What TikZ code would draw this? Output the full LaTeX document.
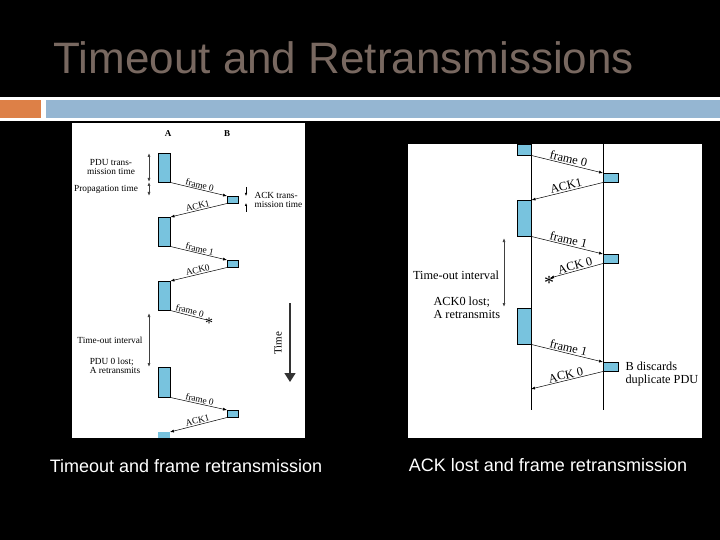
\documentclass[tikz,border=0pt]{standalone}
\usepackage{fontspec}
\setmainfont{Liberation Serif}
\newfontfamily\arial{Liberation Sans}
\usetikzlibrary{arrows.meta}
\definecolor{barblue}{RGB}{120,195,222}
\definecolor{titlec}{RGB}{120,104,96}
\definecolor{orangec}{RGB}{221,128,71}
\definecolor{bluec}{RGB}{149,182,210}
\begin{document}
\begin{tikzpicture}[x=1pt,y=-1pt,
  bar/.style={draw=black,fill=barblue,line width=0.5pt},
  msg/.style={-{Latex[length=4pt,width=3pt]},line width=0.5pt},
  dim/.style={{Latex[length=4pt,width=3pt]}-{Latex[length=4pt,width=3pt]},line width=0.7pt,draw=black!75},
  lsm/.style={font=\fontsize{9.3}{9.5}\selectfont},
  lbig/.style={font=\fontsize{12.3}{13.5}\selectfont},
  captext/.style={text=white,font=\arial\fontsize{18}{20}\selectfont}]
\fill[black] (0,0) rectangle (720,540);
\useasboundingbox (0,0) rectangle (720,540);
\node[text=titlec,font=\arial\fontsize{44}{48}\selectfont,anchor=west] (title) at (50,58) {Timeout and Retransmissions};
\fill[white] (0,97) rectangle (720,121);
\fill[orangec] (0,100) rectangle (41,118);
\fill[bluec] (46,100) rectangle (720,118);
% left figure
\fill[white] (72,123) rectangle (305,438);
\node[font=\bfseries\fontsize{9}{9}\selectfont] (A) at (168,134) {A};
\node[font=\bfseries\fontsize{9}{9}\selectfont] (B) at (227,134) {B};
\foreach \n/\t/\b in {a1/153/182,a2/217/246,a3/281/310,a4/367/397}
  \node[bar,minimum width=12pt,minimum height={(\b-\t)*1pt},inner sep=0pt,anchor=north west] (\n) at (158,\t) {};
\fill[barblue] (158,432) rectangle (170,438);
\foreach \n/\t in {b1/196,b2/260,b3/410}
  \node[bar,minimum width=11pt,minimum height=7pt,inner sep=0pt,anchor=north west] (\n) at (227,\t) {};
\coordinate (a5) at (170,432);
\coordinate (s1) at (207,320);
\draw[msg] (a1.south east) -- node[lsm,sloped,above,inner sep=1pt]{frame 0} (b1.north west);
\draw[msg] (b1.south west) -- node[lsm,sloped,above,inner sep=1pt]{ACK1} (a2.north east);
\draw[msg] (a2.south east) -- node[lsm,sloped,above,inner sep=1pt]{frame 1} (b2.north west);
\draw[msg] (b2.south west) -- node[lsm,sloped,above,inner sep=1pt]{ACK0} (a3.north east);
\draw[line width=0.5pt] (a3.south east) -- node[lsm,sloped,above,inner sep=1pt]{frame 0} (s1);
\node[font=\fontsize{16}{16}\selectfont] (st1) at (209,323) {*};
\draw[msg] (a4.south east) -- node[lsm,sloped,above,inner sep=1pt]{frame 0} (b3.north west);
\draw[msg] (b3.south west) -- node[lsm,sloped,above,inner sep=1pt]{ACK1} (a5);
\coordinate (d1) at (149,153); \coordinate (d2) at (149,182); \coordinate (d3) at (149,196);
\draw[dim] (d1) -- (d2);
\draw[dim] (d2) -- (d3);
\node[lsm,align=center] (l1) at (111,167) {PDU trans-\\mission time};
\node[lsm] (l2) at (106,189) {Propagation time};
\coordinate (e1) at (246,187); \coordinate (e2) at (246,196);
\coordinate (e3) at (246,212); \coordinate (e4) at (246,203);
\draw[-{Latex[length=3pt,width=2.5pt]},line width=0.5pt] (e1) -- (e2);
\draw[-{Latex[length=3pt,width=2.5pt]},line width=0.5pt] (e3) -- (e4);
\node[lsm,align=left,anchor=west] (l3) at (251,200) {ACK trans-\\mission time};
\coordinate (t1) at (149,313); \coordinate (t2) at (149,367);
\draw[dim] (t1) -- (t2);
\node[lsm] (l4) at (110,340) {Time-out interval};
\node[lsm,align=left] (l5) at (115,366) {PDU 0 lost;\\A retransmits};
\coordinate (tm1) at (290,303); \coordinate (tm2) at (290,382);
\draw[line width=1.5pt,draw=black!80,-{Triangle[length=9pt,width=11pt]}] (tm1) -- (tm2);
\node[font=\fontsize{11}{11}\selectfont,rotate=90] (tl) at (278,343) {Time};
% right figure
\fill[white] (408,144) rectangle (702,438);
\coordinate (ra0) at (531,144); \coordinate (ra9) at (531,410);
\coordinate (rb0) at (603,144); \coordinate (rb9) at (603,410);
\draw[line width=0.6pt] (ra0) -- (ra9);
\draw[line width=0.6pt] (rb0) -- (rb9);
\foreach \n/\t/\b in {r1/144/155,r2/200/236,r3/308/344}
  \node[bar,minimum width=14pt,minimum height={(\b-\t)*1pt},inner sep=0pt,anchor=north west] (\n) at (517,\t) {};
\foreach \n/\t in {q1/173,q2/254,q3/362}
  \node[bar,minimum width=15pt,minimum height=9pt,inner sep=0pt,anchor=north west] (\n) at (603,\t) {};
\coordinate (s2) at (550,278);
\coordinate (r4) at (531,389);
\draw[msg] (r1.south east) -- node[lbig,sloped,above,inner sep=1pt]{frame 0} (q1.north west);
\draw[msg] (q1.south west) -- node[lbig,sloped,above,inner sep=1pt]{ACK1} (r2.north east);
\draw[msg] (r2.south east) -- node[lbig,sloped,above,inner sep=1pt]{frame 1} (q2.north west);
\draw[msg] (q2.south west) -- node[lbig,sloped,above,inner sep=1pt]{ACK 0} (s2);
\node[font=\fontsize{20}{20}\selectfont] (st2) at (549,283) {*};
\draw[msg] (r3.south east) -- node[lbig,sloped,above,inner sep=1pt]{frame 1} (q3.north west);
\draw[msg] (q3.south west) -- node[lbig,sloped,above,inner sep=1pt]{ACK 0} (r4);
\coordinate (u1) at (504,238); \coordinate (u2) at (504,307);
\draw[dim] (u1) -- (u2);
\node[lbig] (m1) at (456,275) {Time-out interval};
\node[lbig,align=left,anchor=west] (m2) at (430,308) {ACK0 lost;\\A retransmits};
\node[lbig,align=left,anchor=west] (m3) at (622,374) {B discards\\duplicate PDU};
% captions
\node[captext] (c1) at (186,466) {Timeout and frame retransmission};
\node[captext] (c2) at (548,465) {ACK lost and frame retransmission};
\end{tikzpicture}
\end{document}
